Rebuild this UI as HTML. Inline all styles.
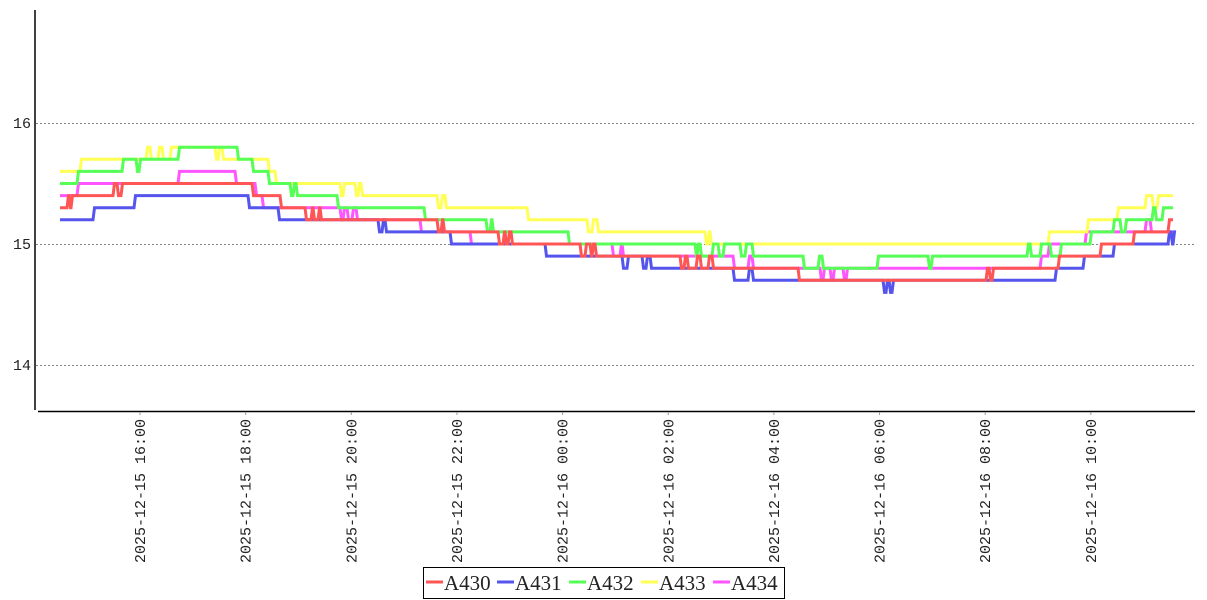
<!DOCTYPE html>
<html><head><meta charset="utf-8"><style>
html,body{margin:0;padding:0;background:#fff;}
svg{display:block;}
</style></head><body>
<svg id="c" width="1207" height="600" xmlns="http://www.w3.org/2000/svg">
<g stroke="#888" stroke-dasharray="2,2" stroke-width="1">
<line x1="36" y1="123.5" x2="1195" y2="123.5"/>
<line x1="36" y1="244.5" x2="1195" y2="244.5"/>
<line x1="36" y1="365.5" x2="1195" y2="365.5"/>
</g>
<g font-family="Liberation Mono, DejaVu Sans Mono, monospace" font-size="15" fill="#222" text-anchor="end">
<text x="31" y="128">16</text><text x="31" y="249">15</text><text x="31" y="370">14</text>
</g>
<g id="series" fill="none" stroke-width="3" stroke-linejoin="miter"></g>
<line x1="35" y1="10" x2="35" y2="410" stroke="#000" stroke-width="1.5"/>
<line x1="38" y1="411.5" x2="1195" y2="411.5" stroke="#000" stroke-width="1.5"/>
<g id="xt" font-family="Liberation Mono, DejaVu Sans Mono, monospace" font-size="15" fill="#222"></g>
<rect x="423.5" y="567.5" width="361" height="31" fill="#fff" stroke="#000"/>
<g font-family="Liberation Serif, DejaVu Serif, serif" font-size="21" fill="#222">
<line x1="426" y1="582" x2="443" y2="582" stroke="#f55" stroke-width="3"/><text x="444" y="590">A430</text>
<line x1="497" y1="582" x2="514" y2="582" stroke="#55e" stroke-width="3"/><text x="515" y="590">A431</text>
<line x1="569" y1="582" x2="586" y2="582" stroke="#5f5" stroke-width="3"/><text x="587" y="590">A432</text>
<line x1="641" y1="582" x2="658" y2="582" stroke="#ff5" stroke-width="3"/><text x="659" y="590">A433</text>
<line x1="713" y1="582" x2="730" y2="582" stroke="#f5f" stroke-width="3"/><text x="731" y="590">A434</text>
</g>
</svg>
<script>
var Y=function(v){return 244-(v-15)*121;};
function path(pts,end){var d='M'+pts[0][0]+','+Y(pts[0][1]);for(var i=1;i<pts.length;i++){d+=' H'+pts[i][0]+' L'+(pts[i][0]+1.5)+','+Y(pts[i][1]);}d+=' H'+end;return d;}
var S=[
['#f5f',[[60,15.4],[77,15.5],[178,15.6],[235,15.5],[255,15.4],[262,15.3],[300,15.3],[340,15.2],[343,15.3],[347,15.2],[352,15.3],[356,15.2],[420,15.1],[465,15.1],[470,15.0],[612,14.9],[620,15.0],[622,14.9],[720,14.9],[733,14.8],[748,14.9],[752,14.8],[820,14.7],[823,14.8],[830,14.7],[833,14.8],[843,14.7],[846,14.8],[985,14.8],[1040,14.9],[1048,15.0],[1085,15.1],[1145,15.2],[1150,15.1]]],
['#ff5',[[60,15.6],[80,15.7],[146,15.8],[150,15.7],[158,15.8],[162,15.7],[170,15.8],[178,15.8],[215,15.7],[218,15.8],[222,15.7],[268,15.6],[275,15.5],[340,15.4],[343,15.5],[355,15.4],[358,15.5],[361,15.4],[437,15.3],[441,15.4],[445,15.3],[527,15.2],[587,15.1],[592,15.2],[597,15.1],[705,15.0],[708,15.1],[710,15.0],[1027,15.0],[1048,15.1],[1087,15.2],[1117,15.3],[1145,15.4],[1152,15.3],[1157,15.4]]],
['#5f5',[[60,15.5],[77,15.6],[122,15.7],[136,15.6],[139,15.7],[178,15.8],[237,15.7],[252,15.6],[268,15.5],[290,15.4],[293,15.5],[296,15.4],[337,15.3],[424,15.2],[486,15.1],[490,15.2],[492,15.1],[568,15.0],[695,14.9],[697,15.0],[700,14.9],[712,15.0],[718,14.9],[723,15.0],[740,14.9],[745,15.0],[752,14.9],[760,14.9],[803,14.8],[818,14.9],[822,14.8],[877,14.9],[928,14.8],[931,14.9],[1027,15.0],[1030,14.9],[1040,15.0],[1050,14.9],[1060,15.0],[1090,15.1],[1113,15.2],[1120,15.1],[1125,15.2],[1152,15.3],[1155,15.2],[1162,15.3]]],
['#55e',[[60,15.2],[93,15.3],[134,15.4],[248,15.3],[278,15.2],[378,15.1],[382,15.2],[385,15.1],[450,15.0],[545,14.9],[622,14.8],[627,14.9],[642,14.8],[646,14.9],[650,14.8],[678,14.8],[733,14.7],[748,14.8],[752,14.7],[883,14.6],[886,14.7],[889,14.6],[892,14.7],[1055,14.8],[1083,14.9],[1113,15.0],[1168,15.1],[1171,15.0],[1173,15.1]]],
['#f55',[[60,15.3],[67,15.4],[69,15.3],[71,15.4],[113,15.5],[117,15.4],[121,15.5],[252,15.4],[280,15.3],[305,15.2],[311,15.3],[313,15.2],[318,15.3],[320,15.2],[437,15.1],[441,15.2],[443,15.1],[447,15.1],[498,15.0],[503,15.1],[505,15.0],[508,15.1],[511,15.0],[575,15.0],[580,14.9],[585,15.0],[590,14.9],[592,15.0],[595,14.9],[680,14.8],[684,14.9],[687,14.8],[696,14.9],[700,14.8],[708,14.9],[712,14.8],[798,14.7],[986,14.8],[989,14.7],[992,14.8],[1058,14.9],[1100,15.0],[1133,15.1],[1168,15.2]]]
];
var g=document.getElementById('series'),ns='http://www.w3.org/2000/svg';
S.forEach(function(s){var p=document.createElementNS(ns,'path');p.setAttribute('d',path(s[1],1173));p.setAttribute('stroke',s[0]);g.appendChild(p);});
var xt=document.getElementById('xt');
var labs=['2025-12-15 16:00','2025-12-15 18:00','2025-12-15 20:00','2025-12-15 22:00','2025-12-16 00:00','2025-12-16 02:00','2025-12-16 04:00','2025-12-16 06:00','2025-12-16 08:00','2025-12-16 10:00'];
labs.forEach(function(l,i){var x=140+i*105.65;
var ln=document.createElementNS(ns,'line');ln.setAttribute('x1',x);ln.setAttribute('x2',x);ln.setAttribute('y1',412);ln.setAttribute('y2',415);ln.setAttribute('stroke','#999');xt.appendChild(ln);
var t=document.createElementNS(ns,'text');t.setAttribute('transform','translate('+(x+5)+',419) rotate(-90)');t.setAttribute('text-anchor','end');t.textContent=l;xt.appendChild(t);});
</script>
</body></html>
